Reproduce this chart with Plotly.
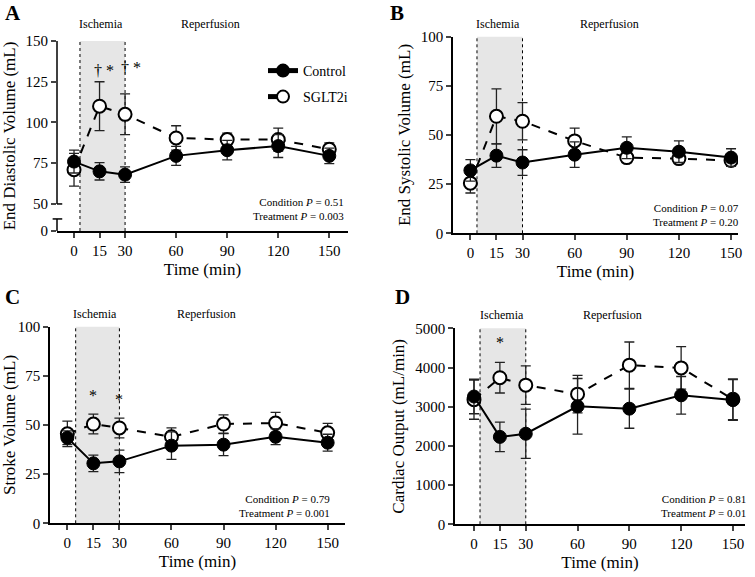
import plotly.graph_objects as go

# ---------------- data ----------------
time = [0, 15, 30, 60, 90, 120, 150]
tick_labels = ["0", "15", "30", "60", "90", "120", "150"]

# A: End Diastolic Volume (mL)
ctrl_edv = [76, 70, 68, 79.5, 83, 85.5, 79.5]
ctrl_edv_err = [7, 5.3, 4.8, 5.8, 6, 7, 4.7]
sglt_edv = [71, 110, 105, 90.5, 89.5, 89.5, 83.5]
sglt_edv_err = [10, 15, 12.5, 7.5, 4, 7, 4]

# B: End Systolic Volume (mL)
ctrl_esv = [32, 39.5, 36, 40, 43.5, 41.5, 38.5]
ctrl_esv_err = [5.5, 6, 6.5, 6.5, 5.5, 5.5, 4.5]
sglt_esv = [25.5, 59.5, 57, 47, 38.5, 38, 37]
sglt_esv_err = [5, 14, 9.5, 6.5, 2.5, 2.5, 3]

# C: Stroke Volume (mL)
ctrl_sv = [43.5, 30.5, 31.5, 39.5, 40, 44, 41]
ctrl_sv_err = [3.5, 4.2, 5.7, 7, 5.6, 4, 4.3]
sglt_sv = [45.5, 50.5, 48.5, 44, 50.5, 51, 46]
sglt_sv_err = [6.5, 5, 5, 4.5, 4.7, 5.4, 4.8]

# D: Cardiac Output (mL/min)
ctrl_co = [3260, 2230, 2310, 3010, 2950, 3290, 3170]
ctrl_co_err = [440, 375, 630, 710, 500, 480, 520]
sglt_co = [3180, 3740, 3550, 3320, 4060, 3990, 3190]
sglt_co_err = [500, 390, 490, 480, 590, 540, 520]

series_names = ["Control", "SGLT2i"]
stats_A = ["0.51", "0.003"]
stats_B = ["0.07", "0.20"]
stats_C = ["0.79", "0.001"]
stats_D = ["0.81", "0.01"]

FONT = "Liberation Serif"
W, H = 755, 577

panels = [
    dict(letter="A", ctrl=ctrl_edv, ce=ctrl_edv_err, sg=sglt_edv, se=sglt_edv_err,
         ytitle="End Diastolic Volume (mL)", stats=stats_A,
         px=(57, 348), py=(41, 231), xr=[-10, 161], yr=[33.4, 150],
         yt=[33.4, 50, 75, 100, 125, 150], ytt=["0", "50", "75", "100", "125", "150"],
         shade=3.5, top_shift=17, stat_dx=-2, stat_dy=22,
         letter_xy=(13, 13)),
    dict(letter="B", ctrl=ctrl_esv, ce=ctrl_esv_err, sg=sglt_esv, se=sglt_esv_err,
         ytitle="End Systolic Volume (mL)", stats=stats_B,
         px=(453, 738), py=(36.7, 233.3), xr=[-10, 154], yr=[0, 100],
         yt=[0, 25, 50, 75, 100], ytt=["0", "25", "50", "75", "100"],
         shade=3.8, top_shift=13, stat_dx=3, stat_dy=18,
         letter_xy=(397, 13)),
    dict(letter="C", ctrl=ctrl_sv, ce=ctrl_sv_err, sg=sglt_sv, se=sglt_sv_err,
         ytitle="Stroke Volume (mL)", stats=stats_C,
         px=(50, 345), py=(326.7, 523.3), xr=[-10, 160], yr=[0, 100],
         yt=[0, 25, 50, 75, 100], ytt=["0", "25", "50", "75", "100"],
         shade=4.8, top_shift=13, stat_dx=-13, stat_dy=17,
         letter_xy=(12, 297)),
    dict(letter="D", ctrl=ctrl_co, ce=ctrl_co_err, sg=sglt_co, se=sglt_co_err,
         ytitle="Cardiac Output (mL/min)", stats=stats_D,
         px=(455, 745), py=(328.3, 524.3), xr=[-11, 157], yr=[0, 5000],
         yt=[0, 1000, 2000, 3000, 4000, 5000], ytt=["0", "1000", "2000", "3000", "4000", "5000"],
         shade=3.5, top_shift=13, stat_dx=3, stat_dy=18,
         letter_xy=(402, 297)),
]

fig = go.Figure()
shapes = []
annotations = []
layout = {}

for i, p in enumerate(panels, start=1):
    sfx = "" if i == 1 else str(i)
    xa, ya = f"x{sfx}", f"y{sfx}"
    # SGLT2i (open, dashed)
    fig.add_trace(go.Scatter(
        x=time, y=p["sg"], xaxis=xa, yaxis=ya, mode="lines+markers",
        name=series_names[1], showlegend=(i == 1), legend="legend2",
        line=dict(color="black", width=2, dash="dash"),
        marker=dict(symbol="circle", size=13, color="white", line=dict(color="black", width=2)),
        error_y=dict(type="data", array=p["se"], visible=True, color="#222", thickness=1.3, width=5),
    ))
    # Control (filled, solid)
    fig.add_trace(go.Scatter(
        x=time, y=p["ctrl"], xaxis=xa, yaxis=ya, mode="lines+markers",
        name=series_names[0], showlegend=(i == 1), legend="legend",
        line=dict(color="black", width=2),
        marker=dict(symbol="circle", size=13, color="black", line=dict(color="black", width=1)),
        error_y=dict(type="data", array=p["ce"], visible=True, color="#222", thickness=1.3, width=5),
    ))

    x0, x1 = p["px"][0] / W, p["px"][1] / W
    y0, y1 = 1 - p["py"][1] / H, 1 - p["py"][0] / H
    broken = (p["letter"] == "A")
    layout[f"xaxis{sfx}"] = dict(
        domain=[x0, x1], range=p["xr"], anchor=ya, automargin=False,
        tickvals=time, ticktext=tick_labels, ticks="outside", ticklen=5, tickwidth=1.5,
        showline=True, linecolor="black", linewidth=1.5, showgrid=False, zeroline=False,
        tickfont=dict(family=FONT, size=15, color="black"),
        title=dict(text="Time (min)", font=dict(family=FONT, size=17, color="black"), standoff=5),
    )
    layout[f"yaxis{sfx}"] = dict(
        domain=[y0, y1], range=p["yr"], anchor=xa, automargin=False,
        tickvals=p["yt"], ticktext=p["ytt"], ticks="outside", ticklen=5, tickwidth=1.5,
        showline=not broken, linecolor="black", linewidth=1.5, showgrid=False, zeroline=False,
        tickfont=dict(family=FONT, size=15, color="black"),
        title=dict(text=p["ytitle"], font=dict(family=FONT, size=17, color="black"), standoff=6),
    )

    # ischemia shading and dotted boundaries
    shapes.append(dict(type="rect", xref=xa, yref=f"{ya} domain", x0=p["shade"], x1=30, y0=0, y1=1,
                       fillcolor="#e6e6e6", line=dict(width=0), layer="below"))
    for xv in (p["shade"], 30):
        shapes.append(dict(type="line", xref=xa, yref=f"{ya} domain", x0=xv, x1=xv, y0=0, y1=1,
                           line=dict(color="black", width=1, dash="dot"), layer="below"))

    # phase labels
    for txt, xv in (("Ischemia", 16), ("Reperfusion", 80)):
        annotations.append(dict(text=txt, xref=xa, yref=f"{ya} domain", x=xv, y=1,
                                yanchor="middle", yshift=p["top_shift"], showarrow=False,
                                font=dict(family=FONT, size=12, color="black")))
    # statistics
    annotations.append(dict(
        text=f"Condition <i>P</i> = {p['stats'][0]}<br>Treatment <i>P</i> = {p['stats'][1]}",
        xref=f"{xa} domain", yref=f"{ya} domain", x=1, y=0, xanchor="right", yanchor="middle",
        xshift=p["stat_dx"], yshift=p["stat_dy"], align="right", showarrow=False,
        font=dict(family=FONT, size=11, color="black")))
    # panel letter
    annotations.append(dict(text=f"<b>{p['letter']}</b>", xref="paper", yref="paper",
                            x=p["letter_xy"][0] / W, y=1 - p["letter_xy"][1] / H,
                            xanchor="center", yanchor="middle", showarrow=False,
                            font=dict(family=FONT, size=21, color="black")))

# broken y axis of panel A
brk_lo, brk_hi = 40.8, 50
shapes += [
    dict(type="line", xref="x domain", yref="y", x0=0, x1=0, y0=brk_hi, y1=150,
         line=dict(color="black", width=1.5)),
    dict(type="line", xref="x domain", yref="y", x0=0, x1=0, y0=33.4, y1=brk_lo,
         line=dict(color="black", width=1.5)),
    dict(type="line", xref="x domain", yref="y", x0=-0.015, x1=0.018, y0=brk_lo, y1=brk_lo,
         line=dict(color="black", width=1.5)),
    dict(type="line", xref="x domain", yref="y", x0=0, x1=0.018, y0=brk_hi, y1=brk_hi,
         line=dict(color="black", width=1.5)),
]

# significance marks
sig_marks = [
    ("x", "y", 14, 132, "†"), ("x", "y", 21, 132, "*"),
    ("x", "y", 30, 133.5, "†"), ("x", "y", 37, 133.5, "*"),
    ("x3", "y3", 15, 65, "*"), ("x3", "y3", 30, 63, "*"),
    ("x4", "y4", 15, 4650, "*"),
]
for xa, ya, xv, yv, t in sig_marks:
    annotations.append(dict(text=t, xref=xa, yref=ya, x=xv, y=yv, showarrow=False,
                            font=dict(family=FONT, size=16, color="black")))

fig.update_layout(
    width=W, height=H, margin=dict(l=0, r=0, t=0, b=0, autoexpand=False),
    paper_bgcolor="white", plot_bgcolor="white",
    font=dict(family=FONT, color="black"),
    shapes=shapes, annotations=annotations,
    legend=dict(x=263 / W, y=1 - 71 / H, xanchor="left", yanchor="middle",
                bgcolor="rgba(0,0,0,0)", font=dict(family=FONT, size=14, color="black"),
                itemsizing="constant"),
    legend2=dict(x=263 / W, y=1 - 97 / H, xanchor="left", yanchor="middle",
                 bgcolor="rgba(0,0,0,0)", font=dict(family=FONT, size=14, color="black"),
                 itemsizing="constant"),
    **layout,
)

fig.write_html("out.html", config={"displayModeBar": False},
               post_script="document.body.style.margin='0';")
